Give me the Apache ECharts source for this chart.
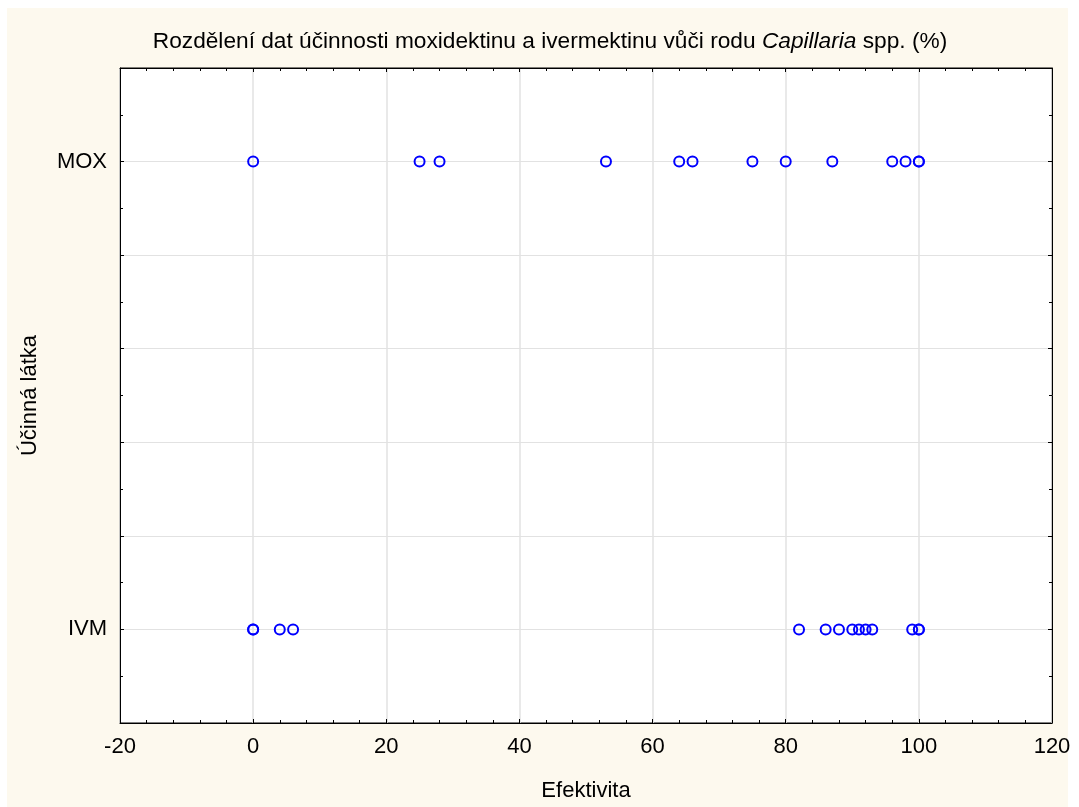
<!DOCTYPE html>
<html>
<head>
<meta charset="utf-8">
<script src="https://cdn.jsdelivr.net/npm/echarts@6/dist/echarts.min.js"></script>
<style>
html,body{margin:0;padding:0;background:#fff;}
#bg{position:absolute;left:7px;top:8px;width:1061px;height:799px;background:#FDF9EE;}
#chart{position:absolute;left:0;top:0;width:1079px;height:807px;}
</style>
</head>
<body>
<div id="bg"></div>
<div id="chart"></div>
<script>
// Categories (y axis) and their slot on the value axis
var categories = ['IVM', 'MOX'];
var categoryPos = [1, 6];
// Efficacy values (%) per group
var ivmValues = [0, 0, 4, 6, 82, 86, 88, 90, 91, 92, 93, 99, 100, 100];
var moxValues = [0, 25, 28, 53, 64, 66, 75, 80, 87, 96, 98, 100, 100];
var xTicks = [-20, 0, 20, 40, 60, 80, 100, 120];

var FONT = '"Liberation Sans", Arial, sans-serif';

function pts(vals, pos) { return vals.map(function (v) { return [v, pos]; }); }

var chart = echarts.init(document.getElementById('chart'), null, {renderer: 'canvas'});
var tickStyle = {show: true, inside: true, length: 4, lineStyle: {color: '#000', width: 1}};
var minorStyle = {show: true, length: 3, lineStyle: {color: '#000', width: 1}};

chart.setOption({
  backgroundColor: 'transparent',
  animation: false,
  title: {
    text: 'Rozdělení dat účinnosti moxidektinu a ivermektinu vůči rodu {i|Capillaria} spp. (%)',
    left: 545, top: 25, textAlign: 'center',
    textStyle: {
      fontFamily: FONT, fontSize: 22.7, fontWeight: 'normal', color: '#000',
      rich: {i: {fontFamily: FONT, fontSize: 22.7, fontStyle: 'italic', color: '#000'}}
    }
  },
  grid: {left: 120, right: 27, top: 68, bottom: 76, show: true, backgroundColor: '#fff', borderColor: '#000', borderWidth: 1},
  xAxis: [{
    type: 'value', min: xTicks[0], max: xTicks[xTicks.length - 1], interval: 20,
    name: 'Efektivita', nameLocation: 'middle', nameGap: 57,
    nameTextStyle: {fontFamily: FONT, fontSize: 22, color: '#000'},
    axisLine: {show: true, onZero: false, lineStyle: {color: '#000'}},
    axisTick: tickStyle,
    minorTick: Object.assign({splitNumber: 5}, minorStyle),
    axisLabel: {fontFamily: FONT, fontSize: 22, color: '#000', margin: 13},
    splitLine: {show: true, lineStyle: {color: '#E2E2E2', width: 1.5}}
  }, {
    type: 'value', position: 'top', min: xTicks[0], max: xTicks[xTicks.length - 1], interval: 20,
    axisLine: {show: true, onZero: false, lineStyle: {color: '#000'}},
    axisTick: tickStyle,
    minorTick: Object.assign({splitNumber: 5}, minorStyle),
    axisLabel: {show: false}, splitLine: {show: false}
  }],
  yAxis: [{
    type: 'value', min: 0, max: 7, interval: 1,
    name: 'Účinná látka', nameLocation: 'middle', nameGap: 79,
    nameTextStyle: {fontFamily: FONT, fontSize: 22, color: '#000'},
    axisLine: {show: true, onZero: false, lineStyle: {color: '#000'}},
    axisTick: tickStyle,
    minorTick: Object.assign({splitNumber: 2}, minorStyle),
    axisLabel: {
      fontFamily: FONT, fontSize: 22, color: '#000', margin: 13,
      formatter: function (v) { var i = categoryPos.indexOf(v); return i >= 0 ? categories[i] : ''; }
    },
    splitLine: {show: true, lineStyle: {color: '#E2E2E2', width: 1}}
  }, {
    type: 'value', position: 'right', min: 0, max: 7, interval: 1,
    axisLine: {show: true, onZero: false, lineStyle: {color: '#000'}},
    axisTick: tickStyle,
    minorTick: Object.assign({splitNumber: 2}, minorStyle),
    axisLabel: {show: false}, splitLine: {show: false}
  }],
  series: [{
    type: 'scatter', name: categories[0], data: pts(ivmValues, categoryPos[0]),
    symbol: 'circle', symbolSize: 10,
    itemStyle: {color: 'rgba(0,0,0,0)', borderColor: '#0000FF', borderWidth: 2, opacity: 1}
  }, {
    type: 'scatter', name: categories[1], data: pts(moxValues, categoryPos[1]),
    symbol: 'circle', symbolSize: 10,
    itemStyle: {color: 'rgba(0,0,0,0)', borderColor: '#0000FF', borderWidth: 2, opacity: 1}
  }]
});
</script>
</body>
</html>
